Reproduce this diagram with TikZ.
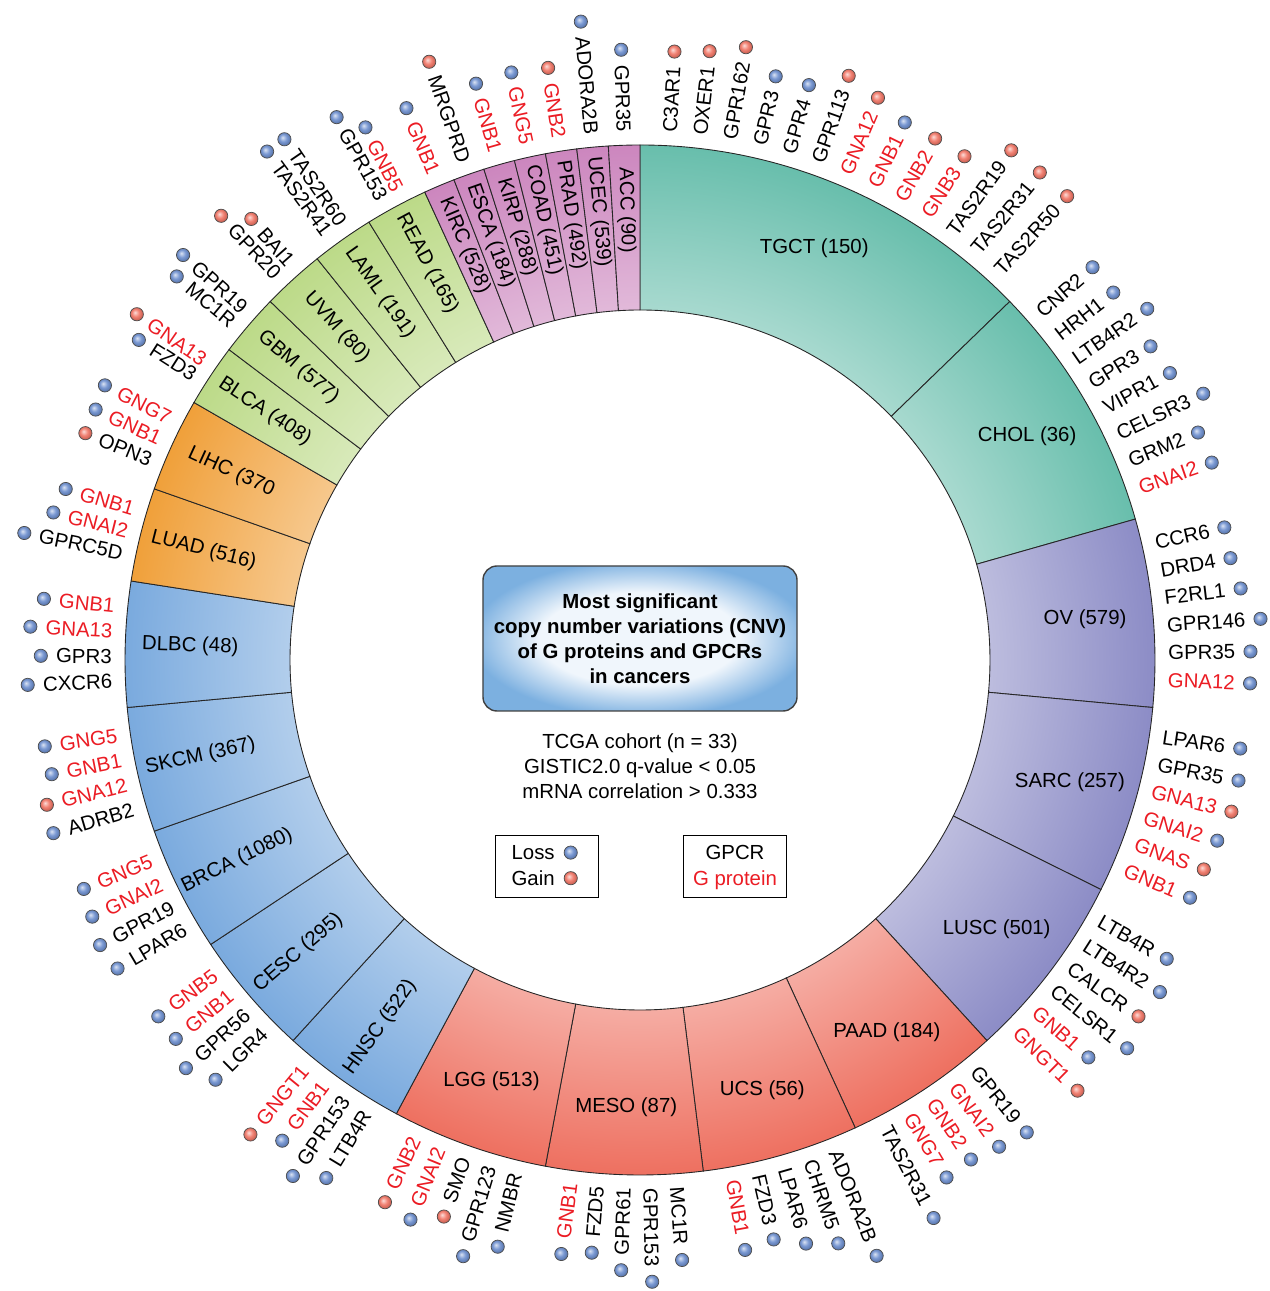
\documentclass[tikz,border=0pt]{standalone}
\usepackage{fontspec}
\setmainfont{Liberation Sans}
\usetikzlibrary{calc,positioning}

\definecolor{gpred}{RGB}{235,28,36}
\definecolor{lossblue}{RGB}{108,142,206}
\definecolor{gainred}{RGB}{240,116,100}
\definecolor{ringteal}{RGB}{104,190,172}
\definecolor{ringviolet}{RGB}{140,140,198}
\definecolor{ringsalmon}{RGB}{238,112,96}
\definecolor{ringblue}{RGB}{122,170,222}
\definecolor{ringorange}{RGB}{240,160,58}
\definecolor{ringgreen}{RGB}{188,218,136}
\definecolor{ringpink}{RGB}{204,134,190}
\definecolor{boxin}{RGB}{240,246,252}
\definecolor{boxout}{RGB}{124,176,224}

\colorlet{ringin}{white}
\colorlet{ringout}{black}
\colorlet{dotcol}{lossblue}
\pgfdeclareradialshading[ringin,ringout]{ringshade}{\pgfpoint{0bp}{0bp}}%
  {color(0bp)=(ringin); color(17bp)=(ringin); color(25bp)=(ringout); color(50bp)=(ringout)}
\pgfdeclareradialshading[dotcol]{dotshade}{\pgfpoint{-7bp}{7bp}}%
  {color(0bp)=(dotcol!25!white); color(14bp)=(dotcol!90!white); color(25bp)=(dotcol!85!black); color(50bp)=(dotcol!70!black)}
\pgfdeclareradialshading{boxshade}{\pgfpoint{0bp}{0bp}}%
  {color(0bp)=(boxin); color(16bp)=(boxin); color(22bp)=(boxin!45!boxout); color(27bp)=(boxout); color(50bp)=(boxout)}

\begin{document}
\begin{tikzpicture}[
x=0.2mm,y=0.2mm,
every node/.style={font=\fontsize{11.6}{14.2}\selectfont},
sector/.style={
	draw=black!85,
	line width=0.5pt
},
seglabel/.style={
	inner sep=0pt
},
gene/.style={
	inner sep=0pt
},
gpcr/.style={text=black},
gprot/.style={text=gpred},
dot/.style={
	circle,
	draw=black!70,
	line width=0.4pt,
	minimum size=2.65mm,
	inner sep=0pt,
	shade,
	shading=dotshade
},
loss/.style={/utils/exec={\colorlet{dotcol}{lossblue}}},
gain/.style={/utils/exec={\colorlet{dotcol}{gainred}}},
titlebox/.style={
	draw=black!75,
	line width=0.8pt,
	rounded corners=2.8mm,
	shade,
	shading=boxshade,
	minimum width=62.8mm,
	minimum height=29mm,
	align=center,
	font=\bfseries\fontsize{11.6}{14.2}\selectfont
},
legend/.style={
	draw,
	line width=0.5pt,
	minimum width=20.6mm,
	minimum height=12.4mm
}
]
\useasboundingbox (-640,-631) rectangle (629,660);

% ring of cancer types, one unit (360/102 degrees) per gene
\foreach \cname/\first/\n/\grp/\genes [count=\j] in {
TGCT (150)/0/13/ringteal/{C3AR1/gpcr/gain,OXER1/gpcr/gain,GPR162/gpcr/gain,GPR3/gpcr/loss,GPR4/gpcr/loss,GPR113/gpcr/gain,GNA12/gprot/gain,GNB1/gprot/loss,GNB2/gprot/gain,GNB3/gprot/gain,TAS2R19/gpcr/gain,TAS2R31/gpcr/gain,TAS2R50/gpcr/gain},
CHOL (36)/13/8/ringteal/{CNR2/gpcr/loss,HRH1/gpcr/loss,LTB4R2/gpcr/loss,GPR3/gpcr/loss,VIPR1/gpcr/loss,CELSR3/gpcr/loss,GRM2/gpcr/loss,GNAI2/gprot/loss},
OV (579)/21/6/ringviolet/{CCR6/gpcr/loss,DRD4/gpcr/loss,F2RL1/gpcr/loss,GPR146/gpcr/loss,GPR35/gpcr/loss,GNA12/gprot/loss},
SARC (257)/27/6/ringviolet/{LPAR6/gpcr/loss,GPR35/gpcr/loss,GNA13/gprot/gain,GNAI2/gprot/loss,GNAS/gprot/gain,GNB1/gprot/loss},
LUSC (501)/33/6/ringviolet/{LTB4R/gpcr/loss,LTB4R2/gpcr/loss,CALCR/gpcr/gain,CELSR1/gpcr/loss,GNB1/gprot/loss,GNGT1/gprot/gain},
PAAD (184)/39/5/ringsalmon/{GPR19/gpcr/loss,GNAI2/gprot/loss,GNB2/gprot/loss,GNG7/gprot/loss,TAS2R31/gpcr/loss},
UCS (56)/44/5/ringsalmon/{ADORA2B/gpcr/loss,CHRM5/gpcr/loss,LPAR6/gpcr/loss,FZD3/gpcr/loss,GNB1/gprot/loss},
MESO (87)/49/5/ringsalmon/{MC1R/gpcr/loss,GPR153/gpcr/loss,GPR61/gpcr/loss,FZD5/gpcr/loss,GNB1/gprot/loss},
LGG (513)/54/5/ringsalmon/{NMBR/gpcr/loss,GPR123/gpcr/loss,SMO/gpcr/gain,GNAI2/gprot/loss,GNB2/gprot/gain},
HNSC (522)/59/4/ringblue/{LTB4R/gpcr/loss,GPR153/gpcr/loss,GNB1/gprot/loss,GNGT1/gprot/gain},
CESC (295)/63/4/ringblue/{LGR4/gpcr/loss,GPR56/gpcr/loss,GNB1/gprot/loss,GNB5/gprot/loss},
BRCA (1080)/67/4/ringblue/{LPAR6/gpcr/loss,GPR19/gpcr/loss,GNAI2/gprot/loss,GNG5/gprot/loss},
SKCM (367)/71/4/ringblue/{ADRB2/gpcr/loss,GNA12/gprot/gain,GNB1/gprot/loss,GNG5/gprot/loss},
DLBC (48)/75/4/ringblue/{CXCR6/gpcr/loss,GPR3/gpcr/loss,GNA13/gprot/loss,GNB1/gprot/loss},
LUAD (516)/79/3/ringorange/{GPRC5D/gpcr/loss,GNAI2/gprot/loss,GNB1/gprot/loss},
LIHC (370/82/3/ringorange/{OPN3/gpcr/gain,GNB1/gprot/loss,GNG7/gprot/loss},
BLCA (408)/85/2/ringgreen/{FZD3/gpcr/loss,GNA13/gprot/gain},
GBM (577)/87/2/ringgreen/{MC1R/gpcr/loss,GPR19/gpcr/loss},
UVM (80)/89/2/ringgreen/{GPR20/gpcr/gain,BAI1/gpcr/gain},
LAML (191)/91/2/ringgreen/{TAS2R41/gpcr/loss,TAS2R60/gpcr/loss},
READ (165)/93/2/ringgreen/{GPR153/gpcr/loss,GNB5/gprot/loss},
KIRC (528)/95/1/ringpink/{GNB1/gprot/loss},
ESCA (184)/96/1/ringpink/{MRGPRD/gpcr/gain},
KIRP (288)/97/1/ringpink/{GNB1/gprot/loss},
COAD (451)/98/1/ringpink/{GNG5/gprot/loss},
PRAD (492)/99/1/ringpink/{GNB2/gprot/gain},
UCEC (539)/100/1/ringpink/{ADORA2B/gpcr/loss},
ACC (90)/101/1/ringpink/{GPR35/gpcr/loss}%
}{
	\pgfmathsetmacro\s{90-\first*3.5294118}
	\pgfmathsetmacro\e{90-(\first+\n)*3.5294118}
	\pgfmathsetmacro\m{(\s+\e)/2}
	\begin{scope}
		\colorlet{ringin}{\grp!58!white}
		\colorlet{ringout}{\grp}
		\clip (\s:515) arc[start angle=\s,end angle=\e,radius=515]
			-- (\e:350) arc[start angle=\e,end angle=\s,radius=350] -- cycle;
		\shade[shading=ringshade] (0,0) circle (515);
	\end{scope}
	\draw[sector] (\s:515) arc[start angle=\s,end angle=\e,radius=515]
		-- (\e:350) arc[start angle=\e,end angle=\s,radius=350] -- cycle;
	\ifnum\n>4
		\node[seglabel] (seg\j) at (\m:447) {\cname};
	\else
		\pgfmathsetmacro\rot{\m-180}
		\node[seglabel,rotate=\rot] (seg\j) at (\m:450) {\cname};
	\fi
	% genes round the segment
	\pgfmathsetmacro\sp{(\n*3.5294118-3.2)/\n}
	\foreach \gene/\kind/\cnv [count=\k from 0] in \genes {
		\pgfmathsetmacro\ang{\s-1.6-(\k+0.5)*\sp}
		\ifdim\ang pt>-90pt
			\node[gene,\kind,rotate=\ang,anchor=west] (g\first-\k) at (\ang:528) {\gene};
			\node[dot,\cnv] (d\first-\k) at ([shift={(\ang:15)}]g\first-\k.east) {};
		\else
			\pgfmathsetmacro\rot{\ang-180}
			\node[gene,\kind,rotate=\rot,anchor=east] (g\first-\k) at (\ang:528) {\gene};
			\node[dot,\cnv] (d\first-\k) at ([shift={(\ang:15)}]g\first-\k.west) {};
		\fi
	}
}

\node[titlebox] (title) at (0,21.5) {Most significant\\copy number variations (CNV)\\of G proteins and GPCRs\\in cancers};
\node[align=center] (stats) at (0,-106) {TCGA cohort (n = 33)\\GISTIC2.0 q-value < 0.05\\mRNA correlation > 0.333};

\node[legend] (cnvkey) at (-93.5,-206) {};
\node[inner sep=0pt,anchor=base east] (losstxt) at (-85,-199.5) {Loss};
\node[inner sep=0pt,anchor=base east] (gaintxt) at (-85,-225.5) {Gain};
\node[dot,loss,right=1.75mm of losstxt] (lossdot) {};
\node[dot,gain,right=1.75mm of gaintxt] (gaindot) {};

\node[legend] (typekey) at (95,-206) {};
\node[inner sep=0pt,anchor=base] (gpcrtxt) at (95,-199.5) {GPCR};
\node[inner sep=0pt,anchor=base,text=gpred] (gprottxt) at (95,-225.5) {G protein};
\end{tikzpicture}
\end{document}
